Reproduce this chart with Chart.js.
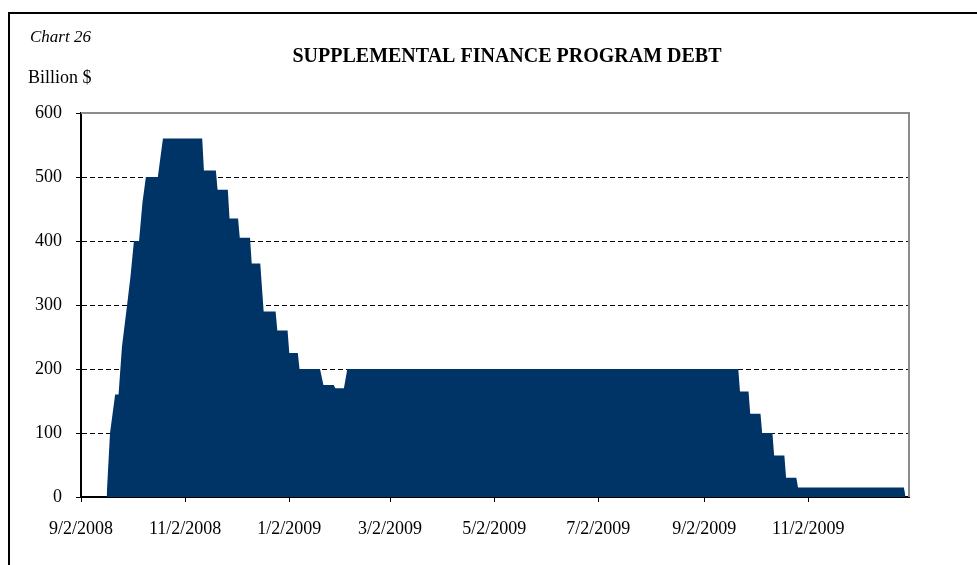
<!DOCTYPE html>
<html>
<head>
<meta charset="utf-8">
<script src="https://cdn.jsdelivr.net/npm/chart.js@4.4.1/dist/chart.umd.min.js"></script>
<style>
  html, body { margin: 0; padding: 0; background: #fff; }
  canvas { display: block; }
</style>
</head>
<body>
<canvas id="sfpCanvas" width="977" height="565"></canvas>
<script>
// Données (milliards de $)
const dates = [
    "9/17/2008", "9/19/2008", "9/22/2008", "9/24/2008", "9/26/2008", "9/29/2008",
    "10/1/2008", "10/3/2008", "10/6/2008", "10/8/2008", "10/10/2008", "10/17/2008",
    "10/20/2008", "11/12/2008", "11/13/2008", "11/20/2008", "11/21/2008", "11/27/2008",
    "11/28/2008", "12/3/2008", "12/4/2008", "12/10/2008", "12/11/2008", "12/16/2008",
    "12/18/2008", "12/25/2008", "12/26/2008", "1/1/2009", "1/2/2009", "1/7/2009",
    "1/8/2009", "1/20/2009", "1/22/2009", "1/28/2009", "1/29/2009", "2/3/2009",
    "2/5/2009", "9/22/2009", "9/23/2009", "9/28/2009", "9/29/2009", "10/5/2009",
    "10/6/2009", "10/12/2009", "10/13/2009", "10/19/2009", "10/20/2009", "10/26/2009",
    "10/27/2009", "12/28/2009", "12/29/2009"
];
const debt = [
    0, 100, 160, 160, 235, 300,
    345, 400, 400, 460, 500, 500,
    560, 560, 510, 510, 480, 480,
    435, 435, 405, 405, 365, 365,
    290, 290, 260, 260, 225, 225,
    200, 200, 175, 175, 170, 170,
    200, 200, 165, 165, 130, 130,
    100, 100, 65, 65, 30, 30,
    15, 15, 0
];
const tickLabels = ["9/2/2008", "11/2/2008", "1/2/2009", "3/2/2009", "5/2/2009", "7/2/2009", "9/2/2009", "11/2/2009"];
const axisStart = "9/2/2008";
const axisEnd = "12/31/2009";

function dayNumber(str) {
    const p = str.split("/").map(Number);
    return Math.round(Date.UTC(p[2], p[0] - 1, p[1]) / 86400000);
}
const day0 = dayNumber(axisStart);
const toDay = s => dayNumber(s) - day0;

const points = dates.map((d, i) => ({ x: toDay(d), y: debt[i] }));
const tickDays = tickLabels.map(toDay);

const FONT = "'Liberation Serif', 'Times New Roman', serif";
Chart.defaults.font.family = FONT;
Chart.defaults.color = "#000";

// Cadre, titres et bordure grise de la zone de tracé
const decorations = {
    id: "decorations",
    beforeDraw(chart) {
        const ctx = chart.ctx;
        ctx.save();
        ctx.fillStyle = "#fff";
        ctx.fillRect(0, 0, chart.width, chart.height);
        ctx.strokeStyle = "#000";
        ctx.lineWidth = 2;
        ctx.beginPath();
        ctx.moveTo(9, chart.height);
        ctx.lineTo(9, 13);
        ctx.lineTo(chart.width, 13);
        ctx.stroke();
        ctx.fillStyle = "#000";
        ctx.textBaseline = "alphabetic";
        ctx.textAlign = "left";
        ctx.font = "italic 17px " + FONT;
        ctx.fillText("Chart 26", 30, 42);
        ctx.font = "18px " + FONT;
        ctx.fillText("Billion $", 28, 83);
        ctx.textAlign = "center";
        ctx.font = "bold 20px " + FONT;
        ctx.fillText("SUPPLEMENTAL FINANCE PROGRAM DEBT", 507, 62);
        ctx.restore();
    },
    afterDatasetsDraw(chart) {
        const a = chart.chartArea;
        const ctx = chart.ctx;
        ctx.save();
        ctx.strokeStyle = "#8c8c8c";
        ctx.lineWidth = 2;
        ctx.beginPath();
        ctx.moveTo(a.left, a.top);
        ctx.lineTo(a.right, a.top);
        ctx.lineTo(a.right, a.bottom);
        ctx.stroke();
        ctx.restore();
    }
};

const sfpChart = new Chart(document.getElementById("sfpCanvas"), {
    type: "line",
    data: {
        datasets: [{
            label: "SFP debt",
            data: points,
            fill: "origin",
            backgroundColor: "#003366",
            borderWidth: 0,
            pointRadius: 0,
            tension: 0
        }]
    },
    options: {
        responsive: false,
        animation: false,
        devicePixelRatio: 1,
        layout: { padding: { left: 0, top: 113, right: 68, bottom: 0 } },
        plugins: {
            legend: { display: false },
            tooltip: { enabled: false }
        },
        scales: {
            x: {
                type: "linear",
                min: 0,
                max: toDay(axisEnd),
                afterBuildTicks: axis => { axis.ticks = tickDays.map(v => ({ value: v })); },
                afterFit: axis => { axis.height = 68; },
                ticks: {
                    autoSkip: false,
                    maxRotation: 0,
                    padding: 16,
                    font: { size: 18 },
                    callback: (value, index) => tickLabels[index]
                },
                grid: {
                    drawOnChartArea: false,
                    tickLength: 5,
                    color: "#000"
                },
                border: { color: "#000", width: 2 }
            },
            y: {
                min: 0,
                max: 600,
                afterFit: axis => { axis.width = 81; },
                ticks: {
                    stepSize: 100,
                    padding: 14,
                    font: { size: 18 }
                },
                grid: {
                    tickLength: 5,
                    tickColor: "#000",
                    color: c => (c.tick && c.tick.value > 0 && c.tick.value < 600) ? "#000" : "rgba(0,0,0,0)"
                },
                border: { color: "#000", width: 2, dash: [5, 3] }
            }
        }
    },
    plugins: [decorations]
});
</script>
</body>
</html>
